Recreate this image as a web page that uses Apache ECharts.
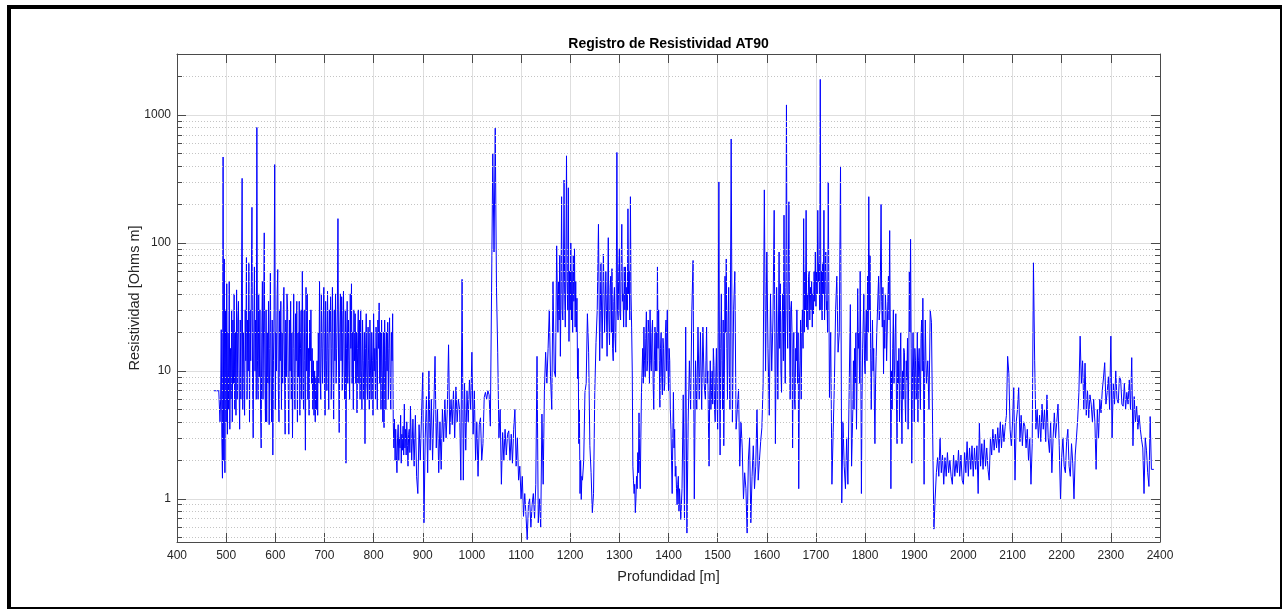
<!DOCTYPE html>
<html>
<head>
<meta charset="utf-8">
<script src="https://cdn.jsdelivr.net/npm/echarts@6/dist/echarts.min.js"></script>
<style>
  html, body { margin: 0; padding: 0; background: #ffffff; }
  #frame { position: absolute; left: 7px; top: 5px; width: 1275px; height: 604px; box-sizing: border-box;
           border-top: 4px solid #000; border-left: 4px solid #000; border-right: 2px solid #000; border-bottom: 2px solid #000; }
  #chart { position: absolute; left: 0; top: 0; width: 1286px; height: 609px; }
</style>
</head>
<body>
<div id="frame"></div>
<div id="chart"></div>
<script>
// ---- Data ----
const titleText = 'Registro de Resistividad AT90';
const xName = 'Profundidad [m]';
const yName = 'Resistividad [Ohms m]';
const xMin = 400, xMax = 2400, xInterval = 100;
const yMin = 0.46, yMax = 3000;
const yMajorTicks = [1, 10, 100, 1000];
const yMinorGrid = [0.5, 0.6, 0.7, 0.8, 0.9, 2, 3, 4, 5, 6, 7, 8, 9, 20, 30, 40, 50, 60, 70, 80, 90,
                    200, 300, 400, 500, 600, 700, 800, 900, 2000];
// Each row covers 50 m of depth starting at 475 m; rows hold 20 samples (2.5 m) or 40 samples (1.25 m).
const depthStart = 475, rowSpan = 50, baseSamples = 20;
const resistivityRows = [
  [7,7,7,7,7,7,7,7,7,7, 4,6,21,3,1.45,470,2,75,1.6,30, 4,48,3.2,20,5,50,3.5,15,6,30, 4,25,8,40,5,20,4.5,43,6,25], // 475
  [35,8,3.5,25,6,40,320,5,20,9, 4.5,30,12,77,6,25,10,70,4,30, 12,45,190,8,3,20,65,10,25,6, 800,12,6,40,9,30,5,2.5,20,50], // 525
  [6,25,120,10,4,30,4,20,8,35, 3.8,15,58,9,4,25,2.2,12,30,410, 5,20,10,40,62,7,4,30,12,35, 5,20,8,30,45,10,3.2,25,9,40], // 575
  [30,8,3.2,25,10,35,6,20,3.0,15, 40,8,5,28,12,35,4,20,9,35, 4.5,15,30,6,60,10,5,30,12,2.4, 45,10,40,6,15,4.5,25,12,30,8], // 625
  [15,5,12,4.5,10,4,9,5,12,4.5, 20,8,50,10,6,40,15,8,25,45, 10,4.5,35,12,7,42,15,5,30,20, 38,6,15,45,10,4.2,30,12,40,8], // 675
  [15,30,155,10,3.3,20,40,12,38,7, 25,42,10,6,30,1.9,15,35,8,25, 12,6,40,15,48,8,20,5,30,12, 28,8,20,4.7,15,30,8,25,6,30], // 725
  [10,5,25,12,6,20,2.7,15,28,8, 6,22,12,5,25,10,6,20,12,4.5, 28,10,15,6,22,12,5,25,15,34, 8,20,5,25,10,4,20,3.6,25,12], // 775
  [5,20,10,24,6,15,26,8,5,20, 12,28,4,2.5,4.2,2.0,3.5,2.2,1.6,3, 3.8,2,3,2.5,4.5,1.9,3.2,2.4,3.7,2.2, 5.5,2.5,3.5,2.2,4,2.6,1.8,3.2,3.5,2.3], // 825
  [5.3,2,4.2,1.8,4.5,1.5,1.1,3.8,2,4.5,9.7,0.65,3,6.3,1.6,10,2.4,6,2.0,5],    // 875
  [13,2.5,5,1.6,4,1.7,5,2.8,6,3,5,16,3.2,6,3.8,7,3,7.5,4,6],                  // 925
  [5,1.4,52,1.4,8,2.4,7,4,8.5,5,14,3.2,7,2,4,1.5,3.8,4.3,2,2.7],              // 975
  [6.2,6.8,6,7,6.5,3.7,41,500,85,790,45,14,3,5,1.3,3.3,2,3.5,2.2,3.2],        // 1025
  [3.4,2,3.2,1.9,3.5,5,1.8,3,1.4,1.8,1.0,1.5,0.73,1.1,0.75,0.48,0.9,1.0,0.6,0.9], // 1075
  [1.1,0.7,1.3,13,0.65,1.0,0.6,4.6,1.3,7,14,8,15,30,9,5,50,10,9,95],          // 1125
  [20,50,25,80,13,40,230,30,25,60, 310,40,22,70,480,50,30,270,17,60, 30,100,25,60,20,80,35,90,22,50, 20,37,8.7,15,2.7,5,1.1,2,0.99,1.5], // 1175
  [1.4,2,6.8,8,28,14,2.6,1.6,0.78,1.1,6.8,16.7,30,140,12,70,15,82,20,60],     // 1225
  [13,40,110,25,16,45,55,20,63,15, 12,35,45,18,14,40,510,30,25,60, 90,28,25,70,140,35,40,22,65,30, 65,22,45,30,185,40,60,25,230,40], // 1275
  [22,10,1.8,1.4,1.1,1.3,0.78,1.0,1.5,1.2, 2.3,1.6,4.7,2,1.2,3,6.8,10,15,8, 22,12,9,18,29,10,12,25,20,8, 30,12,10,20,25,8,5,12,22,10], // 1325
  [20,10,65,15,30,12,5.2,15,20,9, 6.5,18,15,7,8,20,25,10,30,12, 7,15,12,5,3.5,2,1.1,3,6.8,2.5, 3.5,1.5,1.8,1.2,0.9,1.3,1.5,0.8,1.2,0.9], // 1375
  [0.69,1.2,6.5,0.69,22,0.54,4,12,5,30,73,1.0,12,5,22,6,20,5,22,8],           // 1425
  [6,12,22,8,10,4,1.8,6,12,5, 6.8,10,5.5,15,11,5,4,9,15,6, 3.5,20,300,10,2.2,15,40,12,5,25, 2.6,10,55,20,75,15,6,25,45,10], // 1475
  [5,650,4,30,60,3.5,5,7.2,1.8,4,2.5,1.0,1.6,1.2,0.54,2,3,0.65,1.5,2.6],      // 1525
  [1.2,1.8,5,1.4,2,2.8,3.6,8,260,10,85,15,4.5,40,10,25,180,2.7,45,6],         // 1575
  [85,15,48,10,6.8,25,40,12,165,20, 8,45,1200,30,15,60,210,20,6,30, 35,20,2.5,15,20,6,5,15,12,30, 8,20,1.2,8,12,25,6,20,30,15], // 1625
  [155,20,60,30,180,22,40,21,55,60, 25,45,30,50,22,40,28,60,35,85, 32,60,40,180,50,70,30,1900,30,60, 25,70,40,180,25,50,85,30,35,20], // 1675
  [300,6.2,20,1.3,3.3,8,30,55,14,20,400,0.93,4,1.8,1.2,3,1.3,6.8,33,1.8],     // 1725
  [5,12,5,15,8,20,3.5,10,44,15, 20,8,60,12,1.1,6,15,25,40,12, 9.5,20,30,12,55,20,230,30,80,15, 5,12,25,10,15,6,2.7,8,13,20], // 1775
  [20,40,55,25,30,60,200,35,22,45, 9.5,25,15,40,30,12,12,35,55,25, 125,20,1.2,10,5,15,30,8,10,20, 28,6,2.7,12,8,15,4,10,20,6], // 1825
  [2.7,10,6,15,14,6,4,12,8.5,18, 3.5,10,60,20,107,15,1.9,8,20,10, 4,15,12,6,6.8,20,4,12,15,8, 5,18,25,10,37,12,1.3,10,25,12], // 1875
  [8,12,5,30,24,3.2,0.58,1.0,1.6,2.1,1.5,3,1.6,2.2,1.3,2.1,1.5,2.3,1.6,2.0],  // 1925
  [1.5,1.3,2.2,1.5,2.0,1.6,2.4,1.5,2.2,1.4,1.3,2.3,1.6,2.8,1.5,2.5,1.7,2.6,1.5,2.5], // 1975
  [1.7,2.6,1.1,3.9,1.8,2.7,1.7,2.9,1.8,2.5,1.7,1.4,3,2.2,3.5,2.4,3.2,2.5,3.6,2.3],   // 2025
  [4,2.5,3.8,2.8,3.7,4.5,13,9.5,3.5,2.6,4,7.4,1.4,4,5,7.4,2.8,4.5,2.6,4],     // 2075
  [3.7,2.5,3.5,2.0,3,1.3,2.7,70,12,3.5,5,3,4.5,2.8,5.5,3.5,5,2.8,6.5,3],      // 2125
  [2.3,4,1.6,3,4.7,3,4,5.5,2.6,1.0,2.1,3,1.8,1.6,2.8,3.5,1.8,1.5,2.7,1.9],    // 2175
  [1.0,2.2,3,4.2,6.8,18.7,8,12,5,11.5,4.5,7,4.3,6.5,5.5,4,6,4,1.7,5],         // 2225
  [3,6,4.7,7,8.8,11.6,5.5,6.8,9,5,18.7,3,8,5.5,10,6,5.6,9,8.5,5.5],           // 2275
  [5.3,8,5,6.8,5.5,8.5,5,12.7,2.6,6.3,4,5.3,3.5,4.5,3.5,2.9,2.5,1.1,3,2.4],   // 2325
  [1.6,1.25,4.4,1.7,1.7,1.7]                                                  // 2375 (log ends)
];

const logData = [];
resistivityRows.forEach((row, k) => {
  const step = rowSpan / Math.max(row.length, baseSamples);
  row.forEach((v, j) => logData.push([depthStart + k * rowSpan + j * step, v]));
});

const axisColor = '#4a4a4a';
const textColor = '#262626';
const fontFam = '"Liberation Sans", Arial, Helvetica, sans-serif';
const minorTickLen = 10.2; // in metres (~5 px)

const chart = echarts.init(document.getElementById('chart'), null, { renderer: 'canvas' });

function yLabel(v) {
  const l = Math.log10(v);
  if (Math.abs(l - Math.round(l)) < 1e-6) {
    const r = Math.round(Math.pow(10, Math.round(l)));
    if (yMajorTicks.indexOf(r) >= 0) return String(r);
  }
  return '';
}

const minorTickSegs = [];
yMinorGrid.forEach(v => {
  minorTickSegs.push([{ coord: [xMin, v] }, { coord: [xMin + minorTickLen, v] }]);
  minorTickSegs.push([{ coord: [xMax - minorTickLen, v] }, { coord: [xMax, v] }]);
});

chart.setOption({
  animation: false,
  backgroundColor: 'transparent',
  title: {
    text: titleText, left: 663.5, top: 32.5, textAlign: 'center',
    textStyle: { fontFamily: fontFam, fontWeight: 'bold', fontSize: 14, color: '#000' }
  },
  grid: { left: 177, top: 54, right: 126, bottom: 67, containLabel: false },
  xAxis: [
    {
      type: 'value', min: xMin, max: xMax, interval: xInterval, position: 'bottom',
      name: xName, nameLocation: 'middle', nameGap: 27.5, nameMoveOverlap: false,
      nameTextStyle: { fontFamily: fontFam, fontSize: 14.5, color: textColor },
      axisLine: { show: true, lineStyle: { color: axisColor, width: 1 } },
      axisTick: { show: true, inside: true, length: 9, lineStyle: { color: axisColor } },
      axisLabel: { fontFamily: fontFam, fontSize: 12, color: textColor, margin: 8, formatter: v => String(v) },
      splitLine: { show: true, lineStyle: { color: '#dedede', width: 1 } }
    },
    {
      type: 'value', min: xMin, max: xMax, interval: xInterval, position: 'top',
      axisLine: { show: true, lineStyle: { color: axisColor, width: 1 } },
      axisTick: { show: true, inside: true, length: 9, lineStyle: { color: axisColor } },
      axisLabel: { show: false }, splitLine: { show: false }
    }
  ],
  yAxis: [
    {
      type: 'log', logBase: 10, min: yMin, max: yMax, position: 'left',
      name: yName, nameLocation: 'middle', nameGap: 35, nameMoveOverlap: false,
      nameTextStyle: { fontFamily: fontFam, fontSize: 14.5, color: textColor },
      axisLine: { show: true, lineStyle: { color: axisColor, width: 1 } },
      axisTick: { show: true, inside: true, length: 9, lineStyle: { color: axisColor } },
      axisLabel: { fontFamily: fontFam, fontSize: 12, color: textColor, margin: 6, formatter: yLabel },
      splitLine: { show: true, lineStyle: { color: '#dedede', width: 1 } }
    },
    {
      type: 'log', logBase: 10, min: yMin, max: yMax, position: 'right',
      axisLine: { show: true, lineStyle: { color: axisColor, width: 1 } },
      axisTick: { show: true, inside: true, length: 9, lineStyle: { color: axisColor } },
      axisLabel: { show: false }, splitLine: { show: false }
    }
  ],
  series: [
    {
      name: 'minor', type: 'line', xAxisIndex: 0, yAxisIndex: 0, data: [], z: 1, silent: true,
      markLine: {
        silent: true, symbol: ['none', 'none'], label: { show: false }, animation: false,
        lineStyle: { type: [1, 2], color: '#c4c4c4', width: 1 },
        data: yMinorGrid.map(v => ({ yAxis: v }))
      }
    },
    {
      name: 'minorTicks', type: 'line', xAxisIndex: 0, yAxisIndex: 0, data: [], z: 4, silent: true,
      markLine: {
        silent: true, symbol: ['none', 'none'], label: { show: false }, animation: false,
        lineStyle: { type: 'solid', color: axisColor, width: 1 },
        data: minorTickSegs
      }
    },
    {
      name: 'AT90', type: 'line', xAxisIndex: 0, yAxisIndex: 0, data: logData, z: 3,
      showSymbol: false, symbol: 'none', sampling: null,
      lineStyle: { color: '#0000ff', width: 1 }
    }
  ]
});
</script>
</body>
</html>
